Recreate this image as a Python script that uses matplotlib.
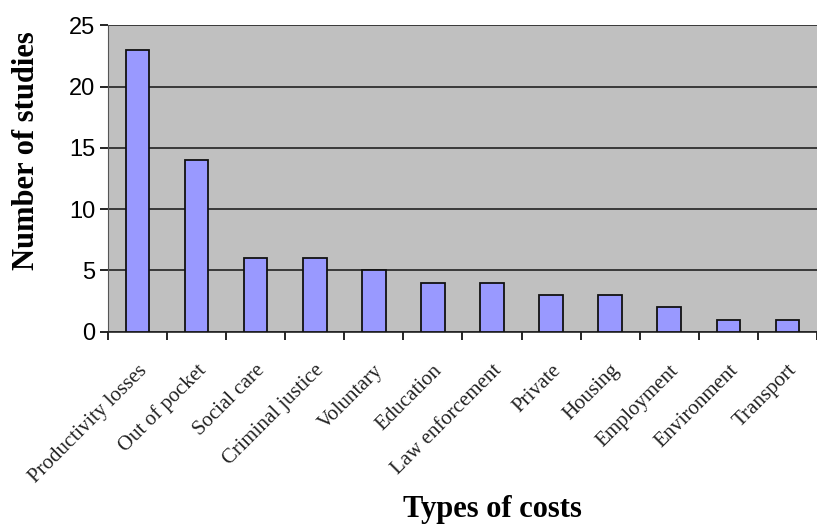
import matplotlib
matplotlib.use("Agg")
import matplotlib.pyplot as plt
import numpy as np

categories = ["Productivity losses", "Out of pocket", "Social care", "Criminal justice",
              "Voluntary", "Education", "Law enforcement", "Private", "Housing",
              "Employment", "Environment", "Transport"]
studies = [23, 14, 6, 6, 5, 4, 4, 3, 3, 2, 1, 1]
yticks = [0, 5, 10, 15, 20, 25]

SERIF = ["Liberation Serif", "DejaVu Serif"]
SANS = ["Liberation Sans", "DejaVu Sans"]

fig = plt.figure(figsize=(8.17, 5.25), dpi=100)
ax = fig.add_axes([0.132, 0.368, 0.868, 0.584])
ax.set_facecolor("#C0C0C0")

x = np.arange(len(categories))
ax.set_axisbelow(True)
ax.yaxis.grid(True, color="#222222", lw=1.2)
ax.bar(x, studies, width=0.4, color="#9999FF", edgecolor="#111111", lw=1.3, zorder=3)

ax.set_xlim(-0.5, len(categories) - 0.5)
ax.set_ylim(0, 25)
ax.set_yticks(yticks)
ax.set_yticklabels([str(v) for v in yticks], family=SANS, fontsize=17)

# category ticks sit between the bars, labels under each bar
ax.set_xticks(np.arange(-0.5, len(categories), 1.0))
ax.set_xticklabels([])
ax.set_xticks(x, minor=True)
ax.set_xticklabels(categories, minor=True, rotation=45, ha="right", va="top",
                   rotation_mode="anchor", family=SERIF, fontsize=15, color="#222222")
ax.tick_params(axis="x", which="minor", length=0, pad=21)
ax.tick_params(axis="x", which="major", length=6, width=1.2, direction="out")
ax.tick_params(axis="y", length=6, width=1.2, direction="out", pad=3)

for side in ["top", "right"]:
    ax.spines[side].set_visible(False)
ax.spines["left"].set_color("#555555")
ax.spines["bottom"].set_color("#222222")
ax.spines["bottom"].set_linewidth(1.2)

fig.text(0.033, 0.714, "Number of studies", family=SERIF, fontweight="bold",
         fontsize=22, rotation=90, ha="center", va="center")
fig.text(0.603, 0.030, "Types of costs", family=SERIF, fontweight="bold",
         fontsize=22, ha="center", va="center")

fig.savefig("out.png", dpi=100)
